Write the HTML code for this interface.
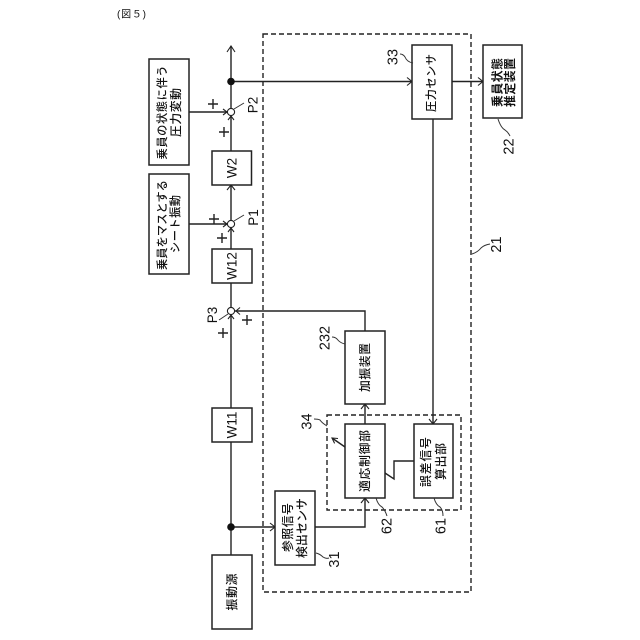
<!DOCTYPE html>
<html><head><meta charset="utf-8"><style>
html,body{margin:0;padding:0;background:#fff;width:640px;height:640px;overflow:hidden}
svg{display:block}
text{font-family:"Liberation Sans","Noto Sans CJK JP",sans-serif;fill:#111;text-anchor:middle;dominant-baseline:central}
.j{font-size:11.800px;font-weight:500}
.x{font-size:11.200px}
.n{font-size:14.500px}
.s{font-size:13.500px}
.b{fill:#fff;stroke:#222;stroke-width:1.500}
.l{fill:none;stroke:#222;stroke-width:1.400}
.a{fill:none;stroke:#222;stroke-width:1.100}
.t{fill:none;stroke:#333;stroke-width:1}
.d{fill:none;stroke:#222;stroke-width:1.400;stroke-dasharray:5 3}
</style></head><body>
<svg width="640" height="640" viewBox="0 0 640 640" xmlns="http://www.w3.org/2000/svg">
<rect x="263" y="34" width="208" height="558" class="d"/>
<rect x="327" y="415" width="134" height="95" class="d"/>

<!-- connectors -->
<path class="l" d="M231 555V46M231 81.5H412M452 81.5H483M231 527H275M315 527H365V498M433 119V424M365 424V404M365 331V311H235M189 112H227M189 224H227"/>
<path class="l" d="M385 473L394 479V461H414M345 447L332 438"/>

<!-- arrowheads -->
<path class="a" d="M227 52L231 46L235 52M227 156L231 151L235 156M227 254L231 249L235 254M227 413L231 408L235 413M227 190L231 185L235 190M407 77.500L412 81.500L407 85.500M478 77.500L483 81.500L478 85.500M270 523L275 527L270 531M361 503L365 498L369 503M429 419L433 424L437 419M361 409L365 404L369 409M338 438.500L332 438L334.600 443.400"/>
<path class="a" d="M240 307.500L236 311L240 314.500M228 120L231 116L234 120M228 232L231 228L234 232M228 319L231 315L234 319M223 109L227 112L223 115M223 221L227 224L223 227"/>

<!-- summing junctions -->
<circle cx="231" cy="112" r="3.600" fill="#fff" stroke="#222" stroke-width="1.100"/>
<circle cx="231" cy="224" r="3.600" fill="#fff" stroke="#222" stroke-width="1.100"/>
<circle cx="231" cy="311" r="3.600" fill="#fff" stroke="#222" stroke-width="1.100"/>
<circle cx="231" cy="81.500" r="3.800" fill="#111"/>
<circle cx="231" cy="527" r="3.800" fill="#111"/>

<!-- boxes -->
<rect x="149" y="59" width="40" height="106" class="b"/>
<rect x="149" y="174" width="40" height="100" class="b"/>
<rect x="212" y="151" width="39.500" height="34" class="b"/>
<rect x="212" y="249" width="40" height="34" class="b"/>
<rect x="212" y="408" width="40" height="34" class="b"/>
<rect x="212" y="555" width="40" height="74" class="b"/>
<rect x="275" y="491" width="40" height="74" class="b"/>
<rect x="345" y="331" width="40" height="73" class="b"/>
<rect x="345" y="424" width="40" height="74" class="b"/>
<rect x="414" y="424" width="39" height="74" class="b"/>
<rect x="412" y="45" width="40" height="74" class="b"/>
<rect x="483" y="45" width="39" height="73" class="b"/>

<!-- leaders -->
<path class="t" d="M234 109L244 103M234 221L244 215M228 314L219 320M413 63Q407 62 405 57 403 54 400 54M498 119Q501 128 505 130 508 132 510 136M345 344Q340 343 337 339 335 337 332 337M316 553Q320 554 323 557 326 559 329 558M327 426Q322 423 320 420 318 419 314 419M376 498Q378 505 382 507 385 510 387 516M434 498Q436 505 440 507 443 510 443 516M472 254Q478 252 481 248 484 245 490 244"/>

<!-- labels -->
<text x="131.500" y="15" font-size="10" textLength="29">(図５)</text>
<g class="j">
<text class="x" transform="translate(163,112.500) rotate(-90)" textLength="94">乗員の状態に伴う</text>
<text transform="translate(176,112.500) rotate(-90)" textLength="49">圧力変動</text>
<text class="x" transform="translate(163,225) rotate(-90)" textLength="90">乗員をマスとする</text>
<text class="x" transform="translate(176,224) rotate(-90)" textLength="58">シート振動</text>
<text transform="translate(232,592) rotate(-90)" textLength="37">振動源</text>
<text transform="translate(288,527.500) rotate(-90)" textLength="49">参照信号</text>
<text transform="translate(302,528) rotate(-90)" textLength="60">検出センサ</text>
<text transform="translate(365,367.500) rotate(-90)" textLength="49">加振装置</text>
<text transform="translate(365,461) rotate(-90)" textLength="62">適応制御部</text>
<text transform="translate(426,462) rotate(-90)" textLength="50">誤差信号</text>
<text transform="translate(441,461.500) rotate(-90)" textLength="37">算出部</text>
<text class="x" transform="translate(432,83) rotate(-90)" textLength="58">圧力センサ</text>
<text transform="translate(497.500,82.500) rotate(-90)" textLength="49" font-weight="700">乗員状態</text>
<text transform="translate(510,82.500) rotate(-90)" textLength="49" font-weight="700">推定装置</text>
</g>
<g class="s">
<text transform="translate(232,168) rotate(-90)">W2</text>
<text transform="translate(232,266) rotate(-90)">W12</text>
<text transform="translate(232,425) rotate(-90)">W11</text>
<text transform="translate(253,105) rotate(-90)">P2</text>
<text transform="translate(253.500,217.500) rotate(-90)">P1</text>
<text transform="translate(212.500,315) rotate(-90)">P3</text>
</g>
<g class="n">
<text transform="translate(393.500,57) rotate(-90)">33</text>
<text transform="translate(509.500,146.500) rotate(-90)">22</text>
<text transform="translate(335,559.500) rotate(-90)">31</text>
<text transform="translate(325.500,338) rotate(-90)">232</text>
<text transform="translate(307.500,421.500) rotate(-90)">34</text>
<text transform="translate(387.500,526) rotate(-90)">62</text>
<text transform="translate(441.500,526) rotate(-90)">61</text>
<text transform="translate(497,244.500) rotate(-90)">21</text>
</g>
<path class="l" d="M208 104H218M213 99V109M219 132H229M224 127V137M209 219H219M214 214V224M217 238H227M222 233V243M242 320H252M247 315V325M218 333H228M223 328V338"/>
</svg>
</body></html>
